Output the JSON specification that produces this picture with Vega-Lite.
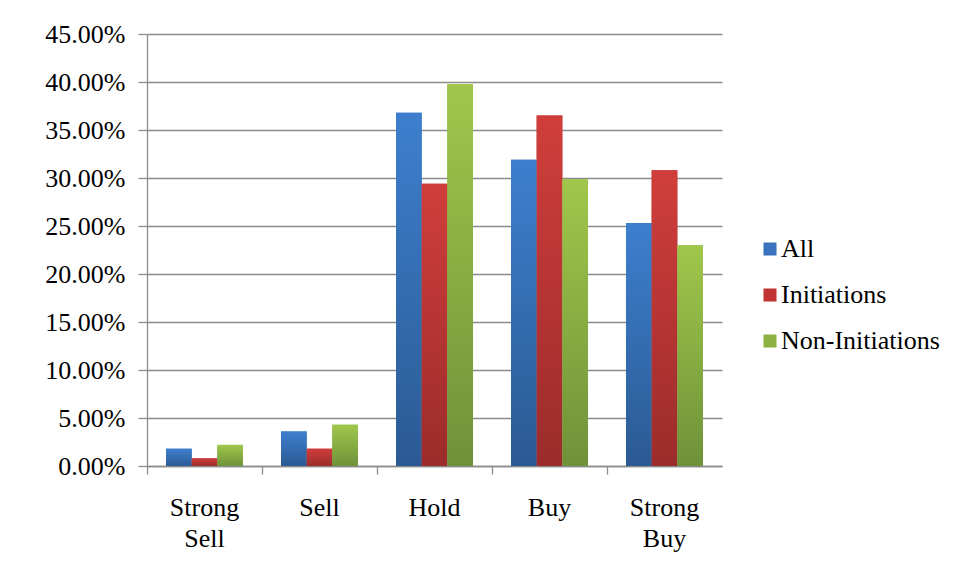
{
  "$schema": "https://vega.github.io/schema/vega-lite/v6.json",
  "width": 575,
  "height": 432,
  "autosize": {"type": "none"},
  "padding": {"left": 147, "top": 34, "right": 234, "bottom": 116},
  "background": "white",
  "config": {
    "view": {"stroke": null},
    "font": "Liberation Serif",
    "axis": {"labelFont": "Liberation Serif", "labelColor": "#000000", "domainColor": "#8c8c8c", "tickColor": "#8c8c8c", "gridColor": "#8c8c8c", "domainWidth": 1.3, "tickWidth": 1.3, "gridWidth": 1.3},
    "legend": {"labelFont": "Liberation Serif", "labelColor": "#000000"}
  },
  "data": {
    "values": [
      {"category": "Strong Sell", "series": "All", "value": 0.018},
      {"category": "Strong Sell", "series": "Initiations", "value": 0.008},
      {"category": "Strong Sell", "series": "Non-Initiations", "value": 0.022},
      {"category": "Sell", "series": "All", "value": 0.036},
      {"category": "Sell", "series": "Initiations", "value": 0.018},
      {"category": "Sell", "series": "Non-Initiations", "value": 0.043},
      {"category": "Hold", "series": "All", "value": 0.368},
      {"category": "Hold", "series": "Initiations", "value": 0.294},
      {"category": "Hold", "series": "Non-Initiations", "value": 0.398},
      {"category": "Buy", "series": "All", "value": 0.319},
      {"category": "Buy", "series": "Initiations", "value": 0.365},
      {"category": "Buy", "series": "Non-Initiations", "value": 0.299},
      {"category": "Strong Buy", "series": "All", "value": 0.253},
      {"category": "Strong Buy", "series": "Initiations", "value": 0.308},
      {"category": "Strong Buy", "series": "Non-Initiations", "value": 0.230}
    ]
  },
  "encoding": {
    "x": {
      "field": "category", "type": "nominal",
      "sort": ["Strong Sell", "Sell", "Hold", "Buy", "Strong Buy"],
      "scale": {"paddingInner": 0, "paddingOuter": 0},
      "axis": {
        "title": null, "labelAngle": 0, "labelFontSize": 26, "labelPadding": 20,
        "labelLineHeight": 31, "labelExpr": "split(datum.label, ' ')",
        "bandPosition": 0, "tickSize": 8, "grid": false, "labelBaseline": "top"
      }
    },
    "xOffset": {
      "field": "series", "type": "nominal",
      "sort": ["All", "Initiations", "Non-Initiations"],
      "scale": {"domain": ["All", "Initiations", "Non-Initiations"], "paddingInner": 0, "paddingOuter": 0.74}
    },
    "y": {
      "field": "value", "type": "quantitative",
      "scale": {"domain": [0, 0.45], "nice": false},
      "axis": {
        "title": null, "format": ".2%", "values": [0, 0.05, 0.1, 0.15, 0.2, 0.25, 0.3, 0.35, 0.4, 0.45],
        "labelFontSize": 26, "labelPadding": 13, "tickSize": 9, "grid": true
      }
    }
  },
  "layer": [
    {
      "mark": {"type": "bar"},
      "encoding": {
        "color": {
          "field": "series", "type": "nominal",
          "scale": {"domain": ["All", "Initiations", "Non-Initiations"], "range": ["#3a72bd", "#c03533", "#8cb243"]},
          "legend": {
            "title": null, "orient": "none", "legendX": 610, "legendY": 202,
            "symbolType": "square", "symbolSize": 170, "symbolStrokeWidth": 0,
            "labelFont": "Liberation Serif", "labelFontSize": 26, "labelColor": "#000000",
            "labelOffset": -2, "rowPadding": 20, "padding": 0
          }
        }
      }
    },
    {
      "mark": {"type": "bar"},
      "encoding": {
        "fill": {
          "condition": [
            {"test": "datum.series === 'All'", "value": {"gradient": "linear", "x1": 0, "y1": 0, "x2": 0, "y2": 1, "stops": [{"offset": 0, "color": "#3d7fce"}, {"offset": 1, "color": "#2b5a93"}]}},
            {"test": "datum.series === 'Initiations'", "value": {"gradient": "linear", "x1": 0, "y1": 0, "x2": 0, "y2": 1, "stops": [{"offset": 0, "color": "#d03e3b"}, {"offset": 1, "color": "#9b2c2b"}]}}
          ],
          "value": {"gradient": "linear", "x1": 0, "y1": 0, "x2": 0, "y2": 1, "stops": [{"offset": 0, "color": "#a0c74b"}, {"offset": 1, "color": "#6f9239"}]}
        }
      }
    }
  ]
}
